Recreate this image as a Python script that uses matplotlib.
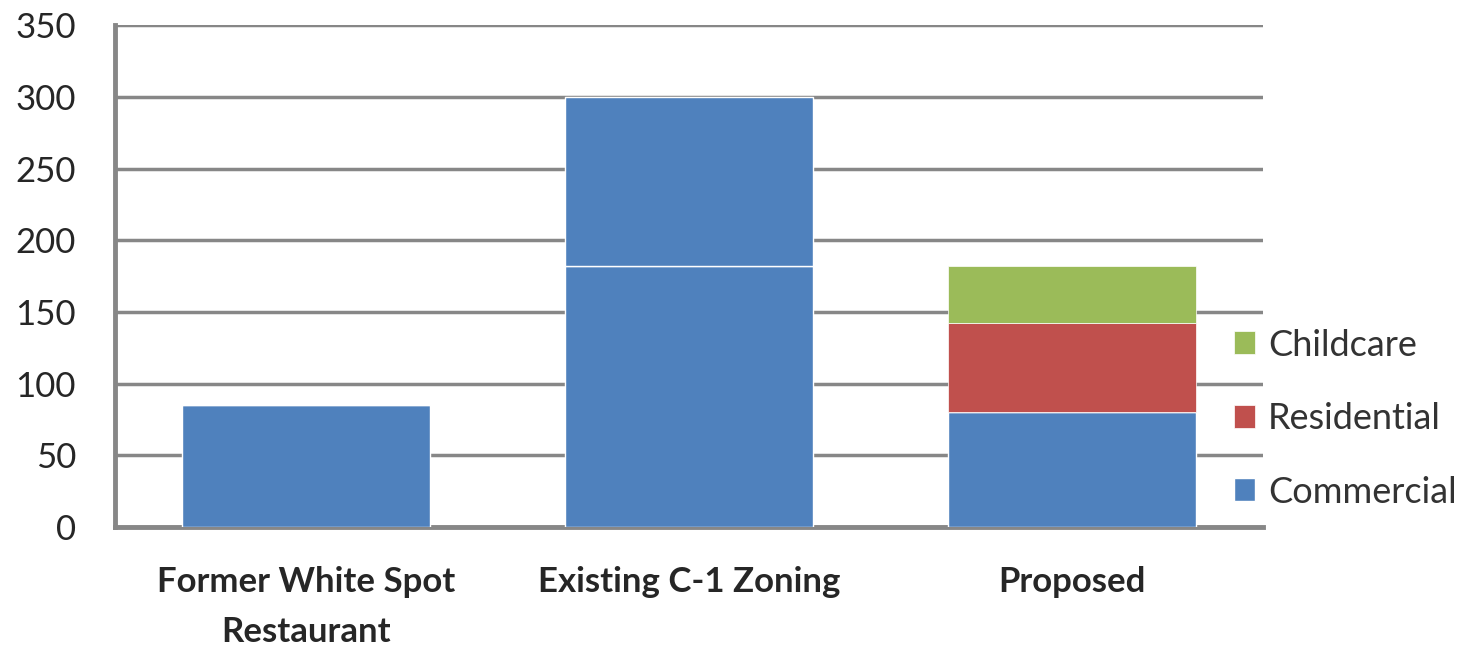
import matplotlib.pyplot as plt
import numpy as np

categories = ["Former White Spot\nRestaurant", "Existing C-1 Zoning", "Proposed"]
commercial = [85, 182, 80]
commercial_extra = [0, 118, 0]   # upper block of the C-1 bar, same colour
residential = [0, 0, 62]
childcare = [0, 0, 40]

blue = "#4F81BD"
red = "#C0504D"
green = "#9BBB59"
grey = "#878787"

plt.rcParams['font.family'] = ['Lato', 'DejaVu Sans']

fig = plt.figure(figsize=(14.74, 6.46), dpi=100)
ax = fig.add_axes([0.078, 0.184, 0.779, 0.777])

x = np.arange(len(categories))
w = 0.648
bottom = np.zeros(len(categories))

b_com = ax.bar(x, commercial, w, color=blue, edgecolor="white", linewidth=1, label="Commercial", zorder=3)
bottom += commercial
ax.bar(x, commercial_extra, w, bottom=bottom, color=blue, edgecolor="white", linewidth=1, zorder=3)
bottom += commercial_extra
b_res = ax.bar(x, residential, w, bottom=bottom, color=red, edgecolor="white", linewidth=0.5, label="Residential", zorder=3)
bottom += residential
b_chi = ax.bar(x, childcare, w, bottom=bottom, color=green, edgecolor="white", linewidth=0.5, label="Childcare", zorder=3)

ax.set_xlim(-0.5, 2.5)
ax.set_ylim(0, 350)
ax.set_yticks(np.arange(0, 351, 50))
ax.set_xticks(x)
ax.set_xticklabels(categories, fontweight="bold", fontsize=25, color="#262626", linespacing=1.7)
ax.tick_params(axis="y", length=0, pad=28, labelsize=25, labelcolor="#262626")
ax.tick_params(axis="x", length=0, pad=28)

ax.yaxis.grid(True, color=grey, linewidth=2.5, zorder=0)
ax.set_axisbelow(True)
for s in ["top", "right"]:
    ax.spines[s].set_visible(False)
for s in ["left", "bottom"]:
    ax.spines[s].set_color(grey)
    ax.spines[s].set_linewidth(3.5)

fig.legend([b_chi, b_res, b_com], ["Childcare", "Residential", "Commercial"],
           loc="center left", bbox_to_anchor=(0.815, 0.352), frameon=False,
           fontsize=26, labelcolor="#333333", handlelength=0.6, handleheight=0.6,
           handletextpad=0.35, labelspacing=1.12)

fig.savefig("out.png", dpi=100)
